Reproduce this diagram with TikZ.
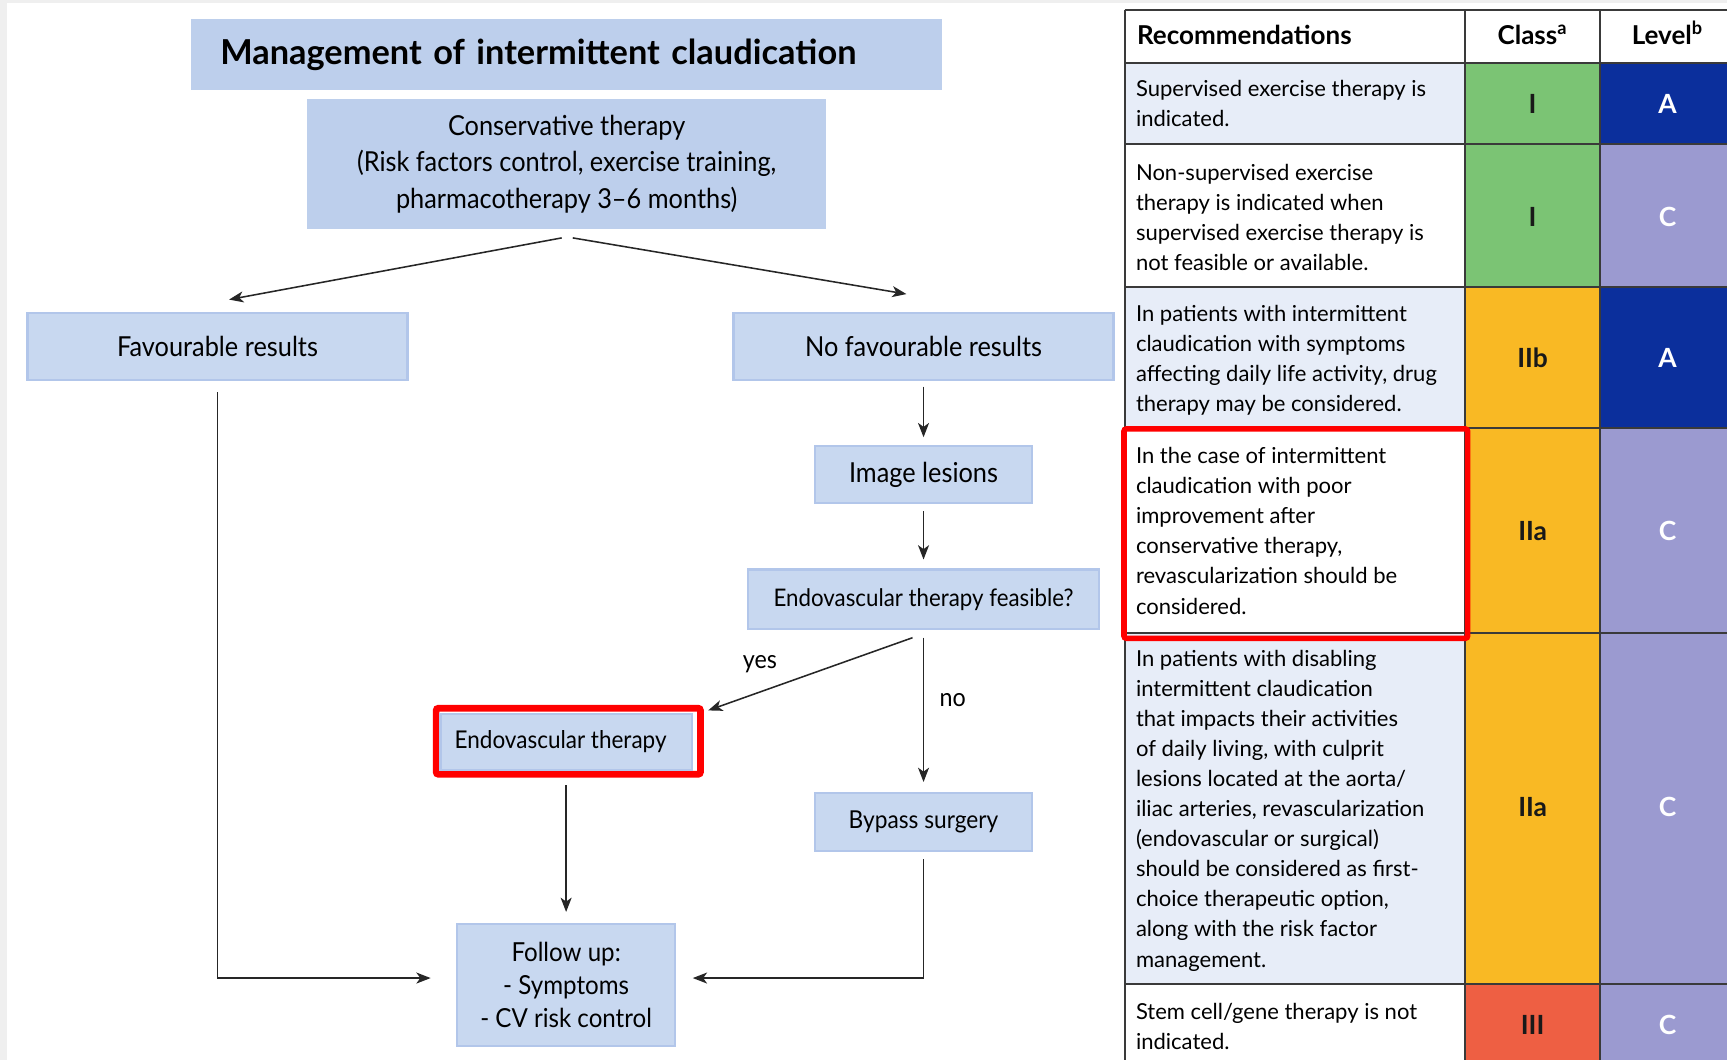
\documentclass[tikz,border=0pt]{standalone}
\usepackage{fontspec}
\setmainfont{Lato}
\newfontfamily\flowfont[FakeStretch=0.92]{Lato}
\usetikzlibrary{arrows.meta,calc}
\definecolor{boxblue}{HTML}{C8D8F0}
\definecolor{titleblue}{HTML}{BDCFEC}
\definecolor{boxedge}{HTML}{B2C6EA}
\definecolor{rowlight}{HTML}{E7EDF8}
\definecolor{cgreen}{HTML}{7BC474}
\definecolor{corange}{HTML}{F9B924}
\definecolor{cred}{HTML}{EE5F43}
\definecolor{cdblue}{HTML}{0B2F9C}
\definecolor{clav}{HTML}{9B9AD0}
\definecolor{gridc}{HTML}{3A3A3A}
\definecolor{hired}{HTML}{FF0000}
\definecolor{bggray}{HTML}{EFEFEF}
\begin{document}
\begin{tikzpicture}[x=0.5pt,y=-0.5pt,
  sz/.style 2 args={minimum width={#1*0.5pt},minimum height={#2*0.5pt}},
  fbox/.style={fill=boxblue,draw=boxedge,line width=1pt,inner sep=0pt,align=center,
    font=\flowfont\fontsize{12.5}{16.5}\selectfont},
  fs/.style={font=\flowfont\fontsize{#1}{16.5}\selectfont},
  arr/.style={draw=black!85,line width=0.7pt,-{Stealth[length=6.5pt,width=5pt,inset=1.8pt]}},
  lbl/.style={inner sep=0pt,font=\flowfont\fontsize{11.5}{14}\selectfont},
  rec/.style={anchor=base west,inner sep=0pt,align=left,font=\fontsize{10}{13.65}\selectfont},
  cls/.style={inner sep=0pt,font=\bfseries\fontsize{12}{14}\selectfont,text=black!90},
  lvl/.style={inner sep=0pt,font=\bfseries\fontsize{12}{14}\selectfont,text=white},
  hdr/.style={anchor=base,inner sep=0pt,font=\bfseries\fontsize{11.8}{14}\selectfont},
  gridline/.style={draw=gridc,line width=0.9pt},
  redframe/.style={draw=hired,line width=3pt,rounded corners=1pt,inner sep=0pt}
]
\useasboundingbox (0,0) rectangle (1568,962);
\fill[bggray] (0,0) rectangle (1568,962);
\fill[white] (6,3) rectangle (1568,962);

% ---------------- flowchart ----------------
\node[fill=titleblue,inner ysep=0pt,inner xsep=13.5pt,text width=314pt,align=left,
  minimum height=32.5pt,font=\bfseries\fontsize{15.6}{18}\selectfont] (title) at (514,49.5)
  {Management of intermittent claudication};
\node[fbox,fill=titleblue,draw=none,sz={471}{118}] (cons) at (514.5,149)
  {Conservative therapy\\(Risk factors control, exercise training,\\pharmacotherapy 3–6 months)};
\node[fbox,sz={345}{61}] (fav) at (197.5,314.5) {Favourable results};
\node[fbox,sz={345}{61}] (nofav) at (838.5,314.5) {No favourable results};
\node[fbox,sz={197}{52}] (img) at (838.5,431) {Image lesions};
\node[fbox,fs=11,sz={319}{54}] (feas) at (838.5,544) {Endovascular therapy feasible?};
\node[redframe,sz={240}{60}] (endof) at (516,673) {};
\node[fbox,fs=11.1,sz={228}{51}] (endo) at (514,673.5) {\hspace*{-5pt}Endovascular therapy};
\node[fbox,fs=11.2,sz={197}{53}] (bypass) at (838.5,746.5) {Bypass surgery};
\node[fbox,sz={198}{111},font=\flowfont\fontsize{11.9}{15}\selectfont] (follow) at (514,894.5)
  {Follow up:\\- Symptoms\\- CV risk control};
\node[lbl] (yes) at (690,603) {yes};
\node[lbl] (no) at (865,636) {no};

\draw[arr] ($(cons.south)+(-4.5,7)$) -- ($(fav.north)+(10.5,-11)$);
\draw[arr] ($(cons.south)+(5.5,7)$) -- ($(nofav.north)+(-15.5,-16)$);
\draw[arr] ($(nofav.south)+(0,5)$) -- ($(img.north)+(0,-7)$);
\draw[arr] ($(img.south)+(0,6)$) -- ($(feas.north)+(0,-8)$);
\draw[arr] ($(feas.south)+(-10,7)$) -- ($(endof.north east)+(4,5)$);
\draw[arr] ($(feas.south)+(0,7)$) -- ($(bypass.north)+(0,-9)$);
\draw[arr] ($(endof.south)+(-2,7)$) -- ($(follow.north)+(0,-10)$);
\draw[arr] ($(fav.south)+(0,10)$) |- ($(follow.west)+(-23,-6.5)$);
\draw[arr] ($(bypass.south)+(0,6)$) |- ($(follow.east)+(15,-6.5)$);

% ---------------- table ----------------
\fill[white] (1021,9) rectangle (1575,57);
\fill[rowlight] (1021,57) rectangle (1330,131);
\fill[white] (1021,131) rectangle (1330,261);
\fill[rowlight] (1021,261) rectangle (1330,389);
\fill[white] (1021,389) rectangle (1330,575);
\fill[rowlight] (1021,575) rectangle (1330,893);
\fill[white] (1021,893) rectangle (1330,970);
\fill[cgreen] (1330,57) rectangle (1453,261);
\fill[corange] (1330,261) rectangle (1453,893);
\fill[cred] (1330,893) rectangle (1453,970);
\fill[cdblue] (1453,57) rectangle (1575,131);
\fill[clav] (1453,131) rectangle (1575,261);
\fill[cdblue] (1453,261) rectangle (1575,389);
\fill[clav] (1453,389) rectangle (1575,970);
\foreach \yy in {9,57,131,261,389,575,893} {\draw[gridline] (1021,\yy) -- (1575,\yy);}
\foreach \xx in {1021,1330,1453} {\draw[gridline] (\xx,9) -- (\xx,970);}

\node[hdr,anchor=base west] (h1) at (1032,40) {Recommendations};
\node[hdr] (h2) at (1391.5,40) {Class\textsuperscript{a}};
\node[hdr] (h3) at (1514,40) {Level\textsuperscript{b}};

% anchor base = baseline of the last line
\node[rec] (r1) at (1031,115.3) {Supervised exercise therapy is\\indicated.};
\node[rec] (r2) at (1031,245.9) {Non-supervised exercise\\therapy is indicated when\\supervised exercise therapy is\\not feasible or available.};
\node[rec] (r3) at (1031,373.9) {In patients with intermittent\\claudication with symptoms\\affecting daily life activity, drug\\therapy may be considered.};
\node[rec] (r4) at (1031,557.5) {In the case of intermittent\\claudication with poor\\improvement after\\conservative therapy,\\revascularization should be\\considered.};
\node[rec] (r5) at (1031,878) {In patients with disabling\\intermittent claudication\\that impacts their activities\\of daily living, with culprit\\lesions located at the aorta/\\iliac arteries, revascularization\\(endovascular or surgical)\\should be considered as first-\\choice therapeutic option,\\along with the risk factor\\management.};
\node[rec] (r6) at (1031,953.3) {Stem cell/gene therapy is not\\indicated.};

\node[cls] (c1) at (1391.5,94) {I};
\node[cls] (c2) at (1391.5,197) {I};
\node[cls] (c3) at (1391.5,325) {IIb};
\node[cls] (c4) at (1391.5,482) {IIa};
\node[cls] (c5) at (1391.5,733) {IIa};
\node[cls] (c6) at (1391.5,931) {III};
\node[lvl] (l1) at (1514,94) {A};
\node[lvl] (l2) at (1514,197) {C};
\node[lvl] (l3) at (1514,325) {A};
\node[lvl] (l4) at (1514,482) {C};
\node[lvl] (l5) at (1514,733) {C};
\node[lvl] (l6) at (1514,931) {C};

\node[redframe,line width=2.5pt,sz={312}{190}] (hl) at (1176.5,484.5) {};
\end{tikzpicture}
\end{document}
